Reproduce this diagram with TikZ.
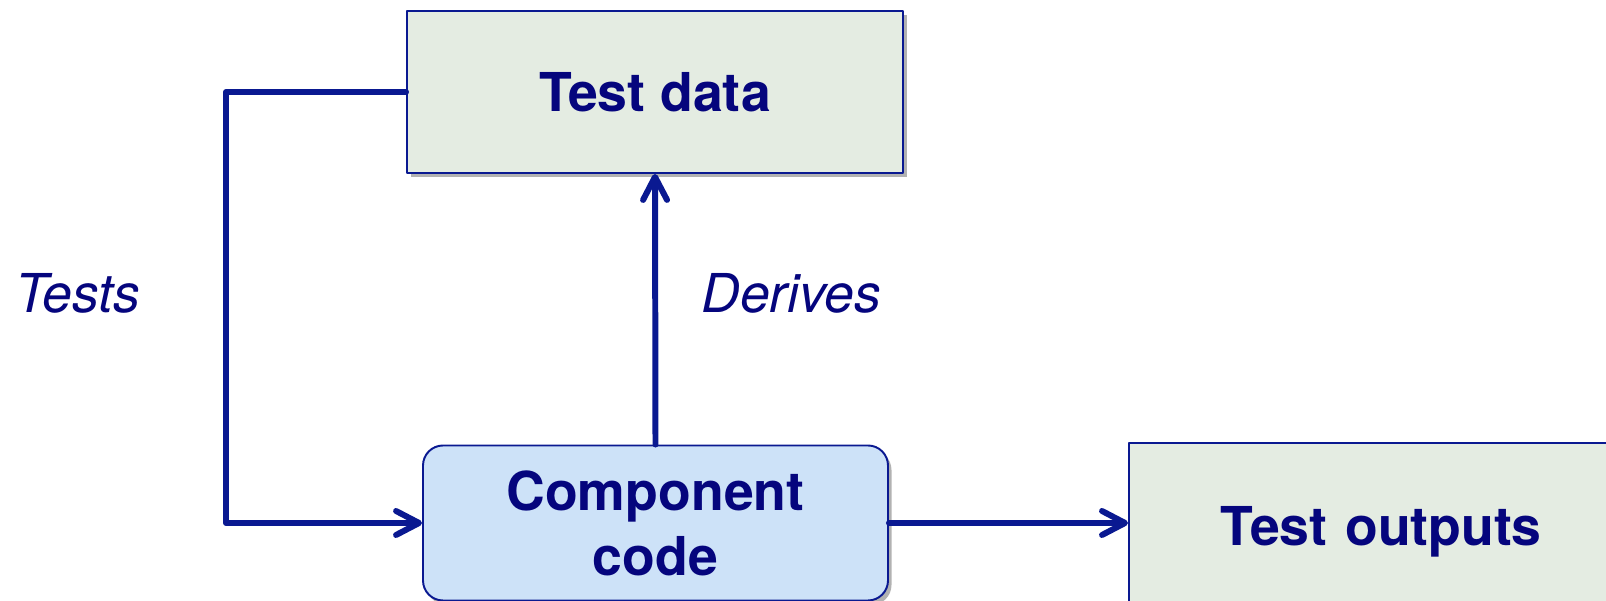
\documentclass[tikz,border=0pt]{standalone}
\usepackage{fontspec}
\setmainfont{TeX Gyre Heros}
\usetikzlibrary{arrows.meta,shadows}
\definecolor{navytext}{RGB}{5,5,125}
\definecolor{linkblue}{RGB}{10,25,145}
\definecolor{datafill}{RGB}{228,236,226}
\definecolor{codefill}{RGB}{205,226,248}
\begin{document}
\begin{tikzpicture}[>={Straight Barb[length=4.6mm,width=4.8mm,line cap=round,line join=round]}, line join=round, line cap=round,
 box/.style={draw=linkblue, line width=1.1pt, text=navytext, font=\fontsize{30.5}{37}\selectfont\bfseries, align=center, drop shadow={shadow xshift=0.07cm, shadow yshift=-0.09cm, fill=black!60, opacity=0.5}},
 link/.style={draw=linkblue, line width=3.4pt},
 tag/.style={text=navytext, font=\fontsize{30.5}{37}\selectfont\itshape, anchor=base}]
\useasboundingbox (0,0) rectangle (32.12,12.02);
\clip (0,0) rectangle (32.12,12.02);
\node[box, fill=datafill, minimum width=9.92cm, minimum height=3.24cm] (data) at (13.1,10.18) {Test data};
\node[box, fill=codefill, rounded corners=0.4cm, minimum width=9.3cm, minimum height=3.1cm] (code) at (13.11,1.56) {Component\\code};
\node[box, fill=datafill, anchor=north west, minimum height=3.56cm, text width=8cm, align=left, inner xsep=1.84cm] (outputs) at (22.56,3.18) {Test outputs};
\draw[link,->] (data.west) -- ++(-3.6,0) |- (code.west);
\draw[link,->] (code.north) -- (data.south);
\draw[link,->] (code.east) -- (code.east -| outputs.west);
\node[tag] (tests) at (1.55,5.76) {Tests};
\node[tag] (derives) at (15.83,5.76) {Derives};
\end{tikzpicture}
\end{document}
